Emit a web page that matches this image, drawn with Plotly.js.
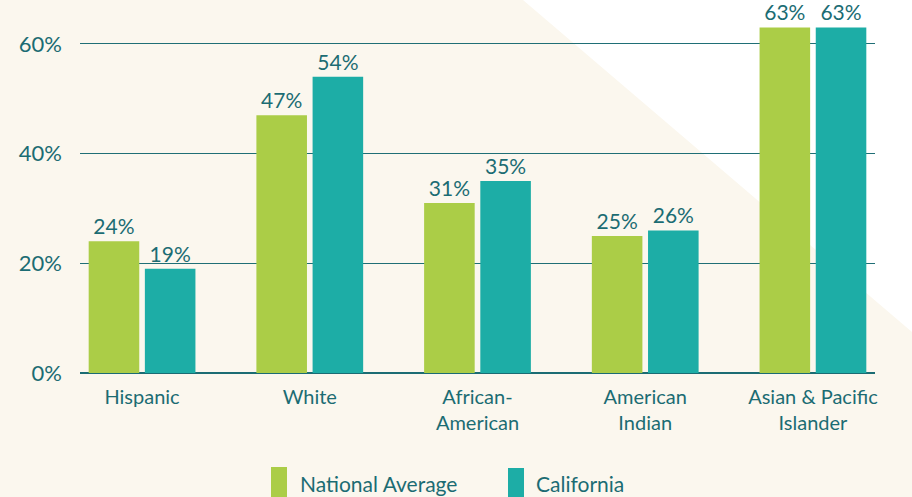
<!DOCTYPE html>
<html>
<head>
<meta charset="utf-8">
<script src="https://cdn.plot.ly/plotly-3.0.1.min.js"></script>
<style>html,body{margin:0;padding:0;background:#FBF7EE;}#chart{width:912px;height:497px;}</style>
</head>
<body>
<div id="chart"></div>
<script>
const categories = ["Hispanic", "White", "African-<br>American", "American<br>Indian", "Asian & Pacific<br>Islander"];
const seriesNames = ["National Average", "California"];
const nationalAverage = [24, 47, 31, 25, 63];
const california = [19, 54, 35, 26, 63];
const yTickValues = [0, 20, 40, 60];
const yTickLabels = ["0%", "20%", "40%", "60%"];

const GREEN = "#ABCD47";
const TEAL = "#1DADA6";
const INK = "#1B6C73";
const FONT = "Lato, 'Open Sans', sans-serif";
const WEIGHT = 400;

const W = 912, H = 497;
const M = {l: 80, r: 37, t: 11, b: 124};
const pw = W - M.l - M.r, ph = H - M.t - M.b;
const px = x => (x - M.l) / pw;
const py = y => (H - M.b - y) / ph;

const traces = [
  {type: "bar", name: seriesNames[0], x: categories, y: nationalAverage, marker: {color: GREEN},
   text: nationalAverage.map(v => v + "%"), textposition: "outside", cliponaxis: false,
   textfont: {family: FONT, size: 21, color: INK, weight: WEIGHT}, hoverinfo: "skip", showlegend: false},
  {type: "bar", name: seriesNames[1], x: categories, y: california, marker: {color: TEAL},
   text: california.map(v => v + "%"), textposition: "outside", cliponaxis: false,
   textfont: {family: FONT, size: 21, color: INK, weight: WEIGHT}, hoverinfo: "skip", showlegend: false}
];

const layout = {
  width: W, height: H,
  margin: M,
  paper_bgcolor: "#FBF7EE",
  plot_bgcolor: "rgba(0,0,0,0)",
  barmode: "group",
  bargap: 0.33,
  bargroupgap: 0.1,
  showlegend: false,
  font: {family: FONT, color: INK, weight: WEIGHT},
  xaxis: {
    type: "category",
    range: [-0.37, 4.37],
    showgrid: false, zeroline: false, showline: false,
    ticks: "", ticklabelstandoff: 10,
    tickfont: {family: FONT, size: 20, color: INK, weight: WEIGHT},
    fixedrange: true
  },
  yaxis: {
    range: [0, 66],
    tickvals: yTickValues, ticktext: yTickLabels,
    showgrid: true, gridcolor: "#1F6F76", gridwidth: 1,
    zeroline: true, zerolinecolor: "#1B6C73", zerolinewidth: 2,
    showline: false, ticks: "", ticklabelstandoff: 17,
    tickfont: {family: FONT, size: 22, color: INK, weight: WEIGHT},
    fixedrange: true
  },
  shapes: [
    {type: "path", xref: "paper", yref: "paper", layer: "below",
     path: `M ${px(523)} ${py(0)} L ${px(912)} ${py(0)} L ${px(912)} ${py(332)} Z`,
     fillcolor: "#FFFFFF", line: {width: 0}},
    {type: "rect", xref: "paper", yref: "paper", x0: px(271), x1: px(287), y0: py(497), y1: py(467),
     fillcolor: GREEN, line: {width: 0}},
    {type: "rect", xref: "paper", yref: "paper", x0: px(508), x1: px(524), y0: py(497), y1: py(468),
     fillcolor: TEAL, line: {width: 0}}
  ],
  annotations: [
    {xref: "paper", yref: "paper", x: px(298), y: py(483), xanchor: "left", yanchor: "middle",
     text: seriesNames[0], showarrow: false, font: {family: FONT, size: 21, color: INK, weight: WEIGHT}},
    {xref: "paper", yref: "paper", x: px(534), y: py(483), xanchor: "left", yanchor: "middle",
     text: seriesNames[1], showarrow: false, font: {family: FONT, size: 21, color: INK, weight: WEIGHT}}
  ]
};

Plotly.newPlot("chart", traces, layout, {displayModeBar: false, staticPlot: true});
</script>
</body>
</html>
